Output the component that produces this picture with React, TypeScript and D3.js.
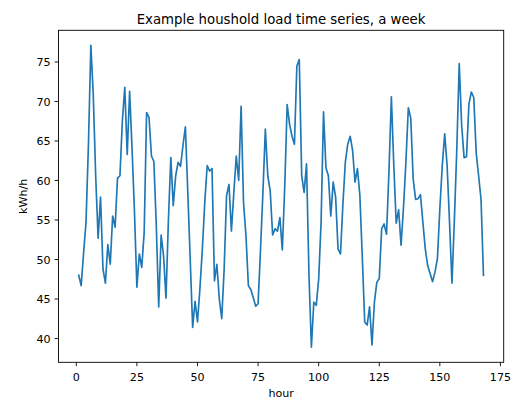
import React from "react";
import * as d3 from "d3";

const hours: number[] = Array.from({ length: 168 }, (_, i) => i + 1);

const load: number[] = [
  48.0, 46.7, 50.8, 54.7, 64.5, 77.1, 70.8, 60.5, 52.7, 57.9,
  48.8, 47.0, 51.9, 49.4, 55.5, 54.1, 60.3, 60.6, 67.5, 71.8,
  63.3, 71.3, 64.0, 56.0, 46.5, 50.7, 49.0, 53.4, 68.6, 68.0,
  63.1, 62.4, 54.3, 44.0, 53.1, 50.5, 45.1, 55.0, 62.9, 56.8,
  60.6, 62.3, 61.8, 64.4, 66.8, 58.5, 50.0, 41.4, 44.7, 42.1,
  46.3, 51.3, 57.2, 61.9, 61.2, 61.5, 47.3, 49.4, 45.0, 42.5,
  48.8, 58.1, 59.5, 53.6, 58.5, 63.1, 60.0, 69.4, 57.2, 53.0,
  46.7, 46.2, 45.2, 44.1, 44.4, 51.2, 58.5, 66.5, 60.6, 58.7,
  53.1, 53.9, 53.6, 55.3, 51.2, 59.2, 69.6, 67.1, 65.6, 64.6,
  74.5, 75.3, 60.6, 58.5, 62.1, 48.0, 38.9, 44.6, 44.2, 47.5,
  54.7, 68.7, 61.6, 60.6, 55.5, 59.8, 57.9, 51.3, 50.7, 57.0,
  62.3, 64.6, 65.6, 63.8, 59.8, 61.5, 58.1, 50.3, 42.1, 41.7,
  44.0, 39.2, 44.6, 47.1, 47.6, 53.9, 54.5, 53.2, 61.1, 70.6,
  61.9, 54.6, 56.3, 51.8, 56.6, 62.3, 69.2, 67.9, 60.2, 57.6,
  57.7, 58.2, 54.7, 51.3, 49.2, 48.2, 47.2, 48.4, 50.1, 56.4,
  61.9, 65.9, 61.9, 54.7, 47.0, 55.0, 64.0, 74.8, 67.0, 62.9,
  63.0, 69.7, 71.2, 70.5, 63.5, 60.6, 57.6, 48.0,
];

const xTicks: number[] = [0, 25, 50, 75, 100, 125, 150, 175];
const yTicks: number[] = [40, 45, 50, 55, 60, 65, 70, 75];

const titleText = "Example houshold load time series, a week";
const xLabel = "hour";
const yLabel = "kWh/h";

export default function App() {
  const W = 516;
  const H = 404;
  const left = 58.5;
  const right = 503.7;
  const top = 30.3;
  const bottom = 362.3;

  const pad = (lo: number, hi: number) => {
    const m = (hi - lo) * 0.05;
    return [lo - m, hi + m];
  };
  const [x0, x1] = pad(d3.min(hours)!, d3.max(hours)!);
  const [y0, y1] = pad(d3.min(load)!, d3.max(load)!);

  const x = d3.scaleLinear().domain([x0, x1]).range([left, right]);
  const y = d3.scaleLinear().domain([y0, y1]).range([bottom, top]);

  const line = d3
    .line<number>()
    .x((_, i) => x(hours[i]))
    .y((d) => y(d));

  const font = "DejaVu Sans, sans-serif";
  const tickLen = 3.9;
  const fs = 11.1;

  return (
    <svg
      width={W}
      height={H}
      style={{ position: "absolute", left: 0, top: 0, background: "#fff" }}
      fontFamily={font}
    >
      <rect x={0} y={0} width={W} height={H} fill="#fff" />
      <path
        d={line(load) || ""}
        fill="none"
        stroke="#1f77b4"
        strokeWidth={1.67}
        strokeLinejoin="round"
        strokeLinecap="square"
      />
      <rect
        x={left}
        y={top}
        width={right - left}
        height={bottom - top}
        fill="none"
        stroke="#000"
        strokeWidth={0.9}
      />
      {xTicks.map((t) => (
        <g key={"x" + t}>
          <line
            x1={x(t)}
            x2={x(t)}
            y1={bottom}
            y2={bottom + tickLen}
            stroke="#000"
            strokeWidth={0.9}
          />
          <text
            x={x(t)}
            y={380.6}
            textAnchor="middle"
            fontSize={fs}
            fill="#000"
          >
            {t}
          </text>
        </g>
      ))}
      {yTicks.map((t) => (
        <g key={"y" + t}>
          <line
            x1={left - tickLen}
            x2={left}
            y1={y(t)}
            y2={y(t)}
            stroke="#000"
            strokeWidth={0.9}
          />
          <text
            x={left - tickLen - 3.9}
            y={y(t) + 4.1}
            textAnchor="end"
            fontSize={fs}
            fill="#000"
          >
            {t}
          </text>
        </g>
      ))}
      <text
        x={(left + right) / 2}
        y={396.5}
        textAnchor="middle"
        fontSize={fs}
        fill="#000"
      >
        {xLabel}
      </text>
      <text
        transform={`translate(26.5, ${(top + bottom) / 2}) rotate(-90)`}
        textAnchor="middle"
        fontSize={fs}
        fill="#000"
      >
        {yLabel}
      </text>
      <text
        x={(left + right) / 2}
        y={23.6}
        textAnchor="middle"
        fontSize={13.3}
        fill="#000"
      >
        {titleText}
      </text>
    </svg>
  );
}
